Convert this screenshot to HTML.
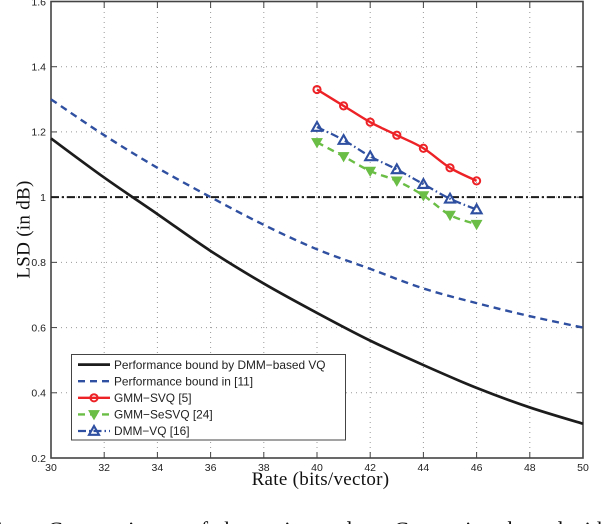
<!DOCTYPE html>
<html lang="en">
<head>
<meta charset="utf-8">
<title>LSD vs Rate chart</title>
<style>
html,body{margin:0;padding:0;background:#fff;width:604px;height:524px;overflow:hidden}
svg{display:block;position:absolute;left:0;top:0}
.tick{font-family:"Liberation Sans",sans-serif;font-size:10.5px;fill:#222}
.leg{font-family:"Liberation Sans",sans-serif;font-size:11.88px;fill:#222}
.ttl{font-family:"Liberation Serif",serif;font-size:19px;fill:#111;letter-spacing:.3px}
.cap{font-family:"Liberation Serif",serif;font-size:22px;fill:#111}
</style>
</head>
<body>
<svg id="chart" width="604" height="524" viewBox="0 0 604 524" xmlns="http://www.w3.org/2000/svg">
  <g id="grid"></g>
  <g id="ticks"></g>
  <rect x="51" y="1.5" width="532" height="456.5" fill="none" stroke="#444" stroke-width="1.6"/>
  <g id="series"></g>
  <g id="labels"></g>
  <text class="ttl" x="320.5" y="485" text-anchor="middle">Rate (bits/vector)</text>
  <text class="ttl" transform="translate(29.5 229.5) rotate(-90)" text-anchor="middle">LSD (in dB)</text>
  <g id="legend"></g>
  <g>
    <text class="cap" x="-6" y="537">1.</text>
    <text class="cap" x="48" y="537" textLength="304">Comparisons of the estimated</text>
    <text class="cap" x="394" y="537" textLength="214">Comparison bound with</text>
  </g>
</svg>
<script>
const xTicks = [30,32,34,36,38,40,42,44,46,48,50];
const yTicks = [0.2,0.4,0.6,0.8,1,1.2,1.4,1.6];
const boundRates = [30,32,34,36,38,40,42,44,46,48,50];
const boundDmm = [1.18,1.06,0.948,0.835,0.735,0.645,0.56,0.485,0.415,0.355,0.305];
const boundRef = [1.3,1.19,1.09,1.0,0.915,0.84,0.78,0.72,0.675,0.635,0.6];
const threshold = [1,1];
const thresholdRates = [30,50];
const vqRates = [40,41,42,43,44,45,46];
const gmmSvq = [1.33,1.28,1.23,1.19,1.15,1.09,1.05];
const gmmSesvq = [1.168,1.125,1.08,1.05,1.005,0.945,0.917];
const dmmVq = [1.215,1.175,1.125,1.085,1.04,0.995,0.962];
const legendLabels = ["Performance bound by DMM\u2212based VQ","Performance bound in [11]","GMM\u2212SVQ [5]","GMM\u2212SeSVQ [24]","DMM\u2212VQ [16]"];

const NS = "http://www.w3.org/2000/svg";
const X = v => 51 + (v - 30) * (532 / 20);
const Y = v => 458 - (v - 0.2) * (456.5 / 1.4);
function mk(tag, parent, attrs){
  const e = document.createElementNS(NS, tag);
  for (const k in attrs) e.setAttribute(k, attrs[k]);
  parent.appendChild(e);
  return e;
}
const grid = document.getElementById('grid');
const ticks = document.getElementById('ticks');
const labels = document.getElementById('labels');
const series = document.getElementById('series');
const legend = document.getElementById('legend');
const gridStyle = {stroke:'#999','stroke-width':1,'stroke-dasharray':'1 4',fill:'none'};

xTicks.forEach(t => {
  const x = X(t);
  if (t > 30 && t < 50) {
    const g = mk('line', grid, {x1:x,x2:x,y1:2,y2:458,...gridStyle});
    
    
    const a = mk('line', ticks, {x1:x,x2:x,y1:458,y2:452,stroke:'#444','stroke-width':1});
    
    
    const b = mk('line', ticks, {x1:x,x2:x,y1:2,y2:8,stroke:'#444','stroke-width':1});
    
    
  }
  const l = mk('text', labels, {x:x,y:471,'text-anchor':'middle',class:'tick'});
  
  
  l.textContent = t;
});
yTicks.forEach(t => {
  const y = Y(t);
  if (t > 0.2 && t < 1.6) {
    const g = mk('line', grid, {x1:51,x2:583,y1:y,y2:y,...gridStyle});
    
    
    const a = mk('line', ticks, {x1:51,x2:57,y1:y,y2:y,stroke:'#444','stroke-width':1});
    
    
    const b = mk('line', ticks, {x1:577,x2:583,y1:y,y2:y,stroke:'#444','stroke-width':1});
    
    
  }
  const l = mk('text', labels, {x:46,y:y+3.8,'text-anchor':'end',class:'tick'});
  
  
  l.textContent = t;
});

function pathOf(xs, ys){
  const pts = xs.map((v,i)=>[X(v),Y(ys[i])]);
  let d = 'M'+pts[0][0]+' '+pts[0][1];
  for (let i=0;i<pts.length-1;i++){
    const p0=pts[Math.max(i-1,0)],p1=pts[i],p2=pts[i+1],p3=pts[Math.min(i+2,pts.length-1)];
    d+=' C'+(p1[0]+(p2[0]-p0[0])/6)+' '+(p1[1]+(p2[1]-p0[1])/6)+' '+(p2[0]-(p3[0]-p1[0])/6)+' '+(p2[1]-(p3[1]-p1[1])/6)+' '+p2[0]+' '+p2[1];
  }
  return d;
}
function marker(parent, kind, x, y, color){
  if (kind === 'circle') return mk('circle', parent, {cx:x,cy:y,r:3.6,fill:'none',stroke:color,'stroke-width':2});
  if (kind === 'down') return mk('path', parent, {d:`M${x-5.4} ${y-4}H${x+5.4}L${x} ${y+5.4}Z`,fill:color,stroke:color,'stroke-width':.6});
  return mk('path', parent, {d:`M${x-5} ${y+3.8}H${x+5}L${x} ${y-5}Z`,fill:'none',stroke:color,'stroke-width':2.1});
}
const styles = [
  {color:'#1c1c1c',w:2.7,dash:'',m:null},
  {color:'#2f4fa0',w:2.4,dash:'7 5',m:null},
  {color:'#ec2227',w:2.4,dash:'',m:'circle'},
  {color:'#6abd45',w:2.4,dash:'7 5',m:'down'},
  {color:'#2f4fa0',w:2.2,dash:'8 3 1.5 3',m:'up'}
];
const names = ['dmm-bound-line','reference-bound-line','gmm-svq-line','gmm-sesvq-line','dmm-vq-line'];
const seriesX = [boundRates,boundRates,vqRates,vqRates,vqRates];
const seriesY = [boundDmm,boundRef,gmmSvq,gmmSesvq,dmmVq];

const th = mk('line', series, {x1:X(thresholdRates[0]),x2:X(thresholdRates[1]),y1:Y(threshold[0]),y2:Y(threshold[1]),stroke:'#1c1c1c','stroke-width':2,'stroke-dasharray':'8 3 2 3'});



styles.forEach((s,i)=>{
  const p = mk('path', series, {d:pathOf(seriesX[i],seriesY[i]),fill:'none',stroke:s.color,'stroke-width':s.w,'stroke-dasharray':s.dash});
  
  
  if (s.m) seriesX[i].forEach((v,j)=>{
    const m = marker(series,s.m,X(v),Y(seriesY[i][j]),s.color);
    
    
  });
});

const box = mk('rect', legend, {x:71.5,y:354.5,width:274,height:85.5,fill:'#fff',stroke:'#444','stroke-width':1});


const legendRowStep = 16.6;
legendLabels.forEach((t,i)=>{
  const y = 364.6 + i*legendRowStep;
  const s = styles[i];
  const ln = mk('line', legend, {x1:78,x2:110,y1:y,y2:y,stroke:s.color,'stroke-width':s.w,'stroke-dasharray':s.dash});
  
  
  if (s.m) {
    const m = marker(legend,s.m,94,y,s.color);
    
    
  }
  const l = mk('text', legend, {x:114,y:y+4.2,class:'leg'});
  
  
  l.textContent = t;
});
</script>
</body>
</html>
